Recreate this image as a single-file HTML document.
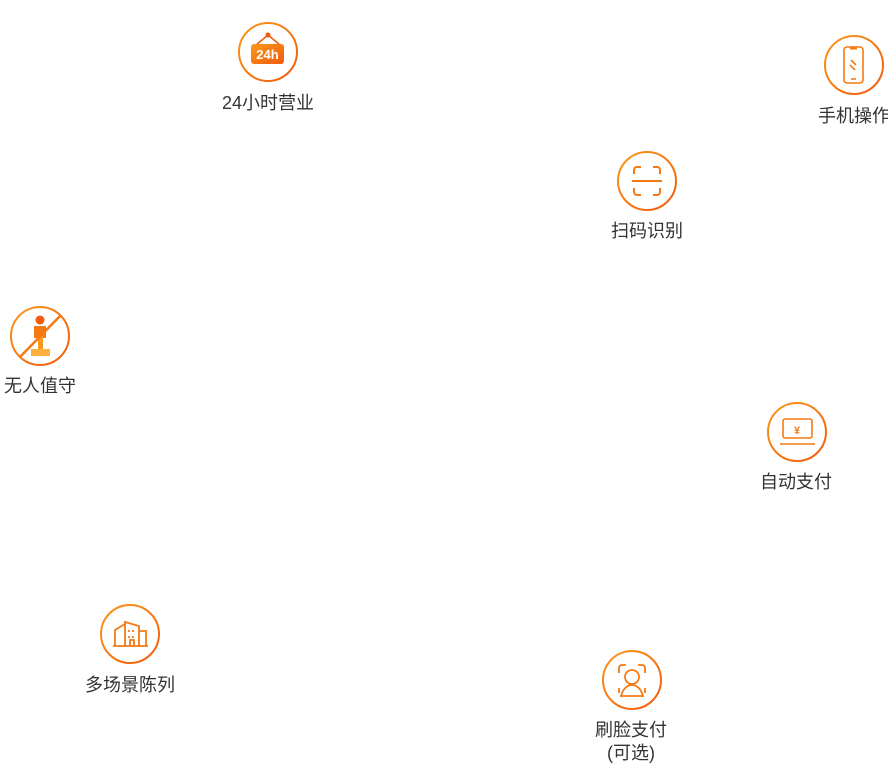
<!DOCTYPE html>
<html><head><meta charset="utf-8"><style>
html,body{margin:0;padding:0;background:#fff;width:888px;height:773px;overflow:hidden}
text{font-family:"Liberation Sans","Noto Sans CJK SC",sans-serif;font-size:18px;fill:#333;text-anchor:middle}
</style></head><body>
<svg width="888" height="773" viewBox="0 0 888 773" xmlns="http://www.w3.org/2000/svg">
<defs><linearGradient id="g" x1="0" y1="0" x2="1" y2="1"><stop offset="0" stop-color="#f99a1c"/><stop offset="1" stop-color="#f25a0c"/></linearGradient></defs>
<g fill="none" stroke="url(#g)" stroke-width="2">
<circle cx="268" cy="52" r="29"/>
<circle cx="854" cy="65" r="29"/>
<circle cx="647" cy="181" r="29"/>
<circle cx="40" cy="336" r="29"/>
<circle cx="797" cy="432" r="29"/>
<circle cx="130" cy="634" r="29"/>
<circle cx="632" cy="680" r="29"/>
</g>
<g>
<circle cx="268" cy="35" r="2.5" fill="#f25a0c"/>
<path d="M268 35 L256 45 M268 35 L280 45" stroke="#f25a0c" stroke-width="1.5"/>
<rect x="251" y="44" width="33" height="20" rx="3" fill="url(#g)"/>
<text x="267.5" y="59" style="font-size:13px;font-weight:bold;fill:#fff">24h</text>
</g>
<g fill="none" stroke="#f47a14" stroke-width="1.6">
<rect x="844" y="47" width="19" height="36" rx="3"/>
<path d="M850 48h7" stroke-width="3"/>
<path d="M851 60l5 5M850 65l5 5"/>
<path d="M851 79h5"/>
</g>
<g fill="none" stroke="#f47a14" stroke-width="2">
<path d="M634 174v-4a3 3 0 0 1 3-3h4M653 167h4a3 3 0 0 1 3 3v4M660 188v4a3 3 0 0 1-3 3h-4M641 195h-4a3 3 0 0 1-3-3v-4"/>
<path d="M632 181h30"/>
</g>
<g>
<circle cx="40" cy="320" r="4.5" fill="#f25a0c"/>
<rect x="34" y="326" width="12" height="12" fill="#f47a14"/>
<rect x="38" y="336" width="5" height="14" fill="#f99a1c"/>
<rect x="31" y="349" width="19" height="7" fill="#fbb040"/>
<path d="M20 357 L61 315" stroke="#f47a14" stroke-width="2.5"/>
</g>
<g fill="none" stroke="#f47a14" stroke-width="1.6">
<rect x="783" y="419" width="29" height="19" rx="2"/>
<path d="M780 444h35"/>
<text x="797" y="434" style="font-size:11px;font-weight:bold;fill:#f47a14;stroke:none">¥</text>
</g>
<g fill="none" stroke="#f47a14" stroke-width="1.8">
<path d="M115 646v-16l10-6v22M125 646v-24l14 4v20M139 646v-15h7v15M113 646h35"/>
<path d="M129 630v2M133 630v2M129 636v2M133 636v2M130 646v-6h4v6"/>
</g>
<g fill="none" stroke="#f47a14" stroke-width="1.8">
<path d="M619 673v-5a3 3 0 0 1 3-3h4M638 665h4a3 3 0 0 1 3 3v5M645 688v5M619 688v5"/>
<circle cx="632" cy="677" r="7"/>
<path d="M621 696c2-8 7-11 11-11s9 3 11 11z"/>
</g>
<text x="268" y="109">24小时营业</text>
<text x="854" y="122">手机操作</text>
<text x="647" y="237">扫码识别</text>
<text x="40" y="392">无人值守</text>
<text x="796" y="488">自动支付</text>
<text x="130" y="691">多场景陈列</text>
<text x="631" y="736">刷脸支付</text>
<text x="631" y="759">(可选)</text>
</svg>
</body></html>
